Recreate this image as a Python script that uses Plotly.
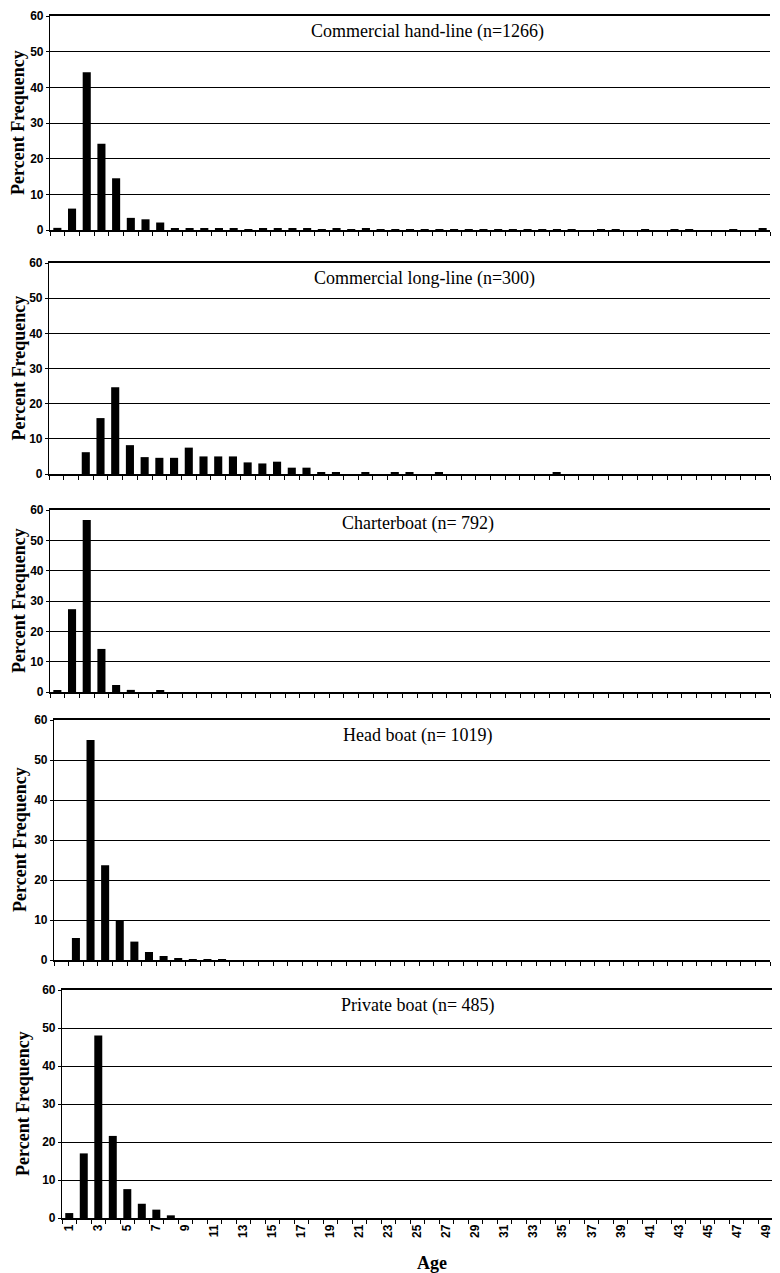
import plotly.graph_objects as go

# ---------------- data ----------------
ages = list(range(1, 50))

hand_line = [0.6, 6.0, 44.2, 24.2, 14.5, 3.4, 3.0, 2.1, 0.5, 0.4,
             0.5, 0.3, 0.3, 0.2, 0.4, 0.3, 0.3, 0.3, 0.2, 0.3,
             0.2, 0.3, 0.2, 0.2, 0.1, 0.2, 0.1, 0.1, 0.2, 0.1,
             0.1, 0.1, 0.1, 0.2, 0.1, 0.1, 0.0, 0.1, 0.1, 0.0,
             0.1, 0.0, 0.1, 0.1, 0.0, 0.0, 0.1, 0.0, 0.3]

long_line = [0.0, 0.0, 6.2, 15.9, 24.7, 8.2, 4.8, 4.6, 4.6, 7.5,
             5.0, 5.0, 5.0, 3.3, 3.0, 3.5, 1.8, 1.8, 0.5, 0.3,
             0.0, 0.3, 0.0, 0.3, 0.3, 0.0, 0.3, 0.0, 0.0, 0.0,
             0.0, 0.0, 0.0, 0.0, 0.3, 0.0, 0.0, 0.0, 0.0, 0.0,
             0.0, 0.0, 0.0, 0.0, 0.0, 0.0, 0.0, 0.0, 0.0]

charterboat = [0.5, 27.3, 56.7, 14.2, 2.3, 0.7, 0.0, 0.4, 0.0, 0.0,
               0.0, 0.0, 0.0, 0.0, 0.0, 0.0, 0.0, 0.0, 0.0, 0.0,
               0.0, 0.0, 0.0, 0.0, 0.0, 0.0, 0.0, 0.0, 0.0, 0.0,
               0.0, 0.0, 0.0, 0.0, 0.0, 0.0, 0.0, 0.0, 0.0, 0.0,
               0.0, 0.0, 0.0, 0.0, 0.0, 0.0, 0.0, 0.0, 0.0]

head_boat = [0.0, 5.5, 55.0, 23.7, 9.8, 4.6, 2.0, 1.0, 0.4, 0.2,
             0.1, 0.1, 0.0, 0.0, 0.0, 0.0, 0.0, 0.0, 0.0, 0.0,
             0.0, 0.0, 0.0, 0.0, 0.0, 0.0, 0.0, 0.0, 0.0, 0.0,
             0.0, 0.0, 0.0, 0.0, 0.0, 0.0, 0.0, 0.0, 0.0, 0.0,
             0.0, 0.0, 0.0, 0.0, 0.0, 0.0, 0.0, 0.0, 0.0]

private_boat = [1.3, 17.0, 48.0, 21.6, 7.6, 3.75, 2.2, 0.7, 0.0, 0.0,
                0.0, 0.0, 0.0, 0.0, 0.0, 0.0, 0.0, 0.0, 0.0, 0.0,
                0.0, 0.0, 0.0, 0.0, 0.0, 0.0, 0.0, 0.0, 0.0, 0.0,
                0.0, 0.0, 0.0, 0.0, 0.0, 0.0, 0.0, 0.0, 0.0, 0.0,
                0.0, 0.0, 0.0, 0.0, 0.0, 0.0, 0.0, 0.0, 0.0]

titles = ["Commercial hand-line (n=1266)",
          "Commercial long-line (n=300)",
          "Charterboat (n= 792)",
          "Head boat (n= 1019)",
          "Private boat (n= 485)"]
series = [hand_line, long_line, charterboat, head_boat, private_boat]

y_ticks = [0, 10, 20, 30, 40, 50, 60]
x_tick_labels = [a for a in ages if a % 2 == 1]

# ---------------- layout geometry (page pixels) ----------------
PAGE_W, PAGE_H = 780, 1273
OFF = 8                      # default body margin of the html page
W, H = PAGE_W - OFF, PAGE_H - OFF


def px(x):
    return (x - OFF) / W


def py(y):
    return (H - (y - OFF)) / H


# (left, right, top, bottom) of each plot area, in page pixels
boxes = [(50, 770, 16, 230),
         (49, 770, 263, 474),
         (50, 770, 510, 692),
         (54, 770, 720, 960),
         (62, 773, 990, 1218)]
title_pos = [(427, 31), (424, 278), (418, 523), (418, 735), (418, 1005)]
ytitle_x = [18, 18, 19, 20, 23]

SERIF = "Liberation Serif, Times New Roman, serif"
SANS = "Liberation Sans, Arial, sans-serif"

fig = go.Figure()
layout = dict(
    width=W, height=H,
    margin=dict(l=0, r=0, t=0, b=0, autoexpand=False),
    paper_bgcolor="white", plot_bgcolor="white",
    showlegend=False, bargap=0.45,
    annotations=[],
)

for i, (vals, title, box) in enumerate(zip(series, titles, boxes)):
    n = i + 1
    xl, xr, yt, yb = box
    fig.add_trace(go.Bar(x=ages, y=vals, xaxis=f"x{n}", yaxis=f"y{n}",
                         marker=dict(color="black", line=dict(width=0)),
                         width=0.55))
    last = (n == len(series))
    layout[f"xaxis{n}"] = dict(
        domain=[px(xl), px(xr)], anchor=f"y{n}", automargin=False,
        range=[0.5, 49.5], showgrid=False, zeroline=False,
        showline=True, linecolor="black", linewidth=1.5, mirror=True,
        tickmode="array", tickvals=x_tick_labels,
        ticktext=[str(a) for a in x_tick_labels],
        ticks="", showticklabels=last, tickangle=-90,
        ticklabeloverflow="allow",
        tickfont=dict(family=SANS, size=12, color="black", weight="bold"),
        minor=dict(tickmode="array", tickvals=[a + 0.5 for a in range(0, 50)],
                   ticks="outside", ticklen=4, tickcolor="black", tickwidth=1),
    )
    layout[f"yaxis{n}"] = dict(
        domain=[py(yb), py(yt)], anchor=f"x{n}", automargin=False,
        range=[0, 60], tickmode="array", tickvals=y_ticks,
        showgrid=True, gridcolor="black", gridwidth=1.3,
        zeroline=False, showline=True, linecolor="black", linewidth=1.2,
        ticks="outside", ticklen=3, tickcolor="black",
        ticklabeloverflow="allow",
        tickfont=dict(family=SANS, size=12, color="black", weight="bold"),
    )
    tx, ty = title_pos[i]
    layout["annotations"].append(dict(
        text=title, x=px(tx), y=py(ty), xref="paper", yref="paper",
        xanchor="center", yanchor="middle", showarrow=False,
        font=dict(family=SERIF, size=18, color="black")))
    layout["annotations"].append(dict(
        text="Percent Frequency", x=px(ytitle_x[i]), y=py((yt + yb) / 2),
        xref="paper", yref="paper", xanchor="center", yanchor="middle",
        textangle=-90, showarrow=False,
        font=dict(family=SERIF, size=18, color="black", weight="bold")))

layout["annotations"].append(dict(
    text="Age", x=px(432), y=py(1263), xref="paper", yref="paper",
    xanchor="center", yanchor="middle", showarrow=False,
    font=dict(family=SERIF, size=18, color="black", weight="bold")))

fig.update_layout(**layout)
fig.write_html("out.html")
